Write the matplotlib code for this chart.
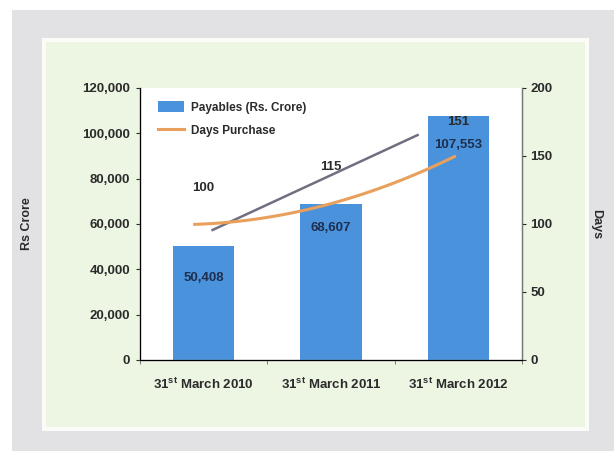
import numpy as np
import matplotlib.pyplot as plt
from matplotlib.patches import Rectangle

plt.rcParams['font.family'] = ['Liberation Sans Narrow', 'Liberation Sans', 'DejaVu Sans']
plt.rcParams['font.weight'] = 'bold'
plt.rcParams['axes.labelweight'] = 'bold'
plt.rcParams['mathtext.default'] = 'regular'

# data
years = ['31$^{st}$ March 2010', '31$^{st}$ March 2011', '31$^{st}$ March 2012']
payables = [50408, 68607, 107553]          # Rs crore
payable_labels = ['50,408', '68,607', '107,553']
days = [100, 115, 151]                     # days purchase
# straight grey guide line drawn on the days axis
guide_x = [0.07, 1.68]
guide_y = [95.6, 165.4]

W, H = 614, 451
fig = plt.figure(figsize=(W / 100, H / 100), dpi=100)
fig.patch.set_facecolor('white')

def px_rect(x0, y0, x1, y1, color):
    fig.patches.append(Rectangle((x0 / W, 1 - y1 / H), (x1 - x0) / W, (y1 - y0) / H,
                                 transform=fig.transFigure, facecolor=color,
                                 edgecolor='none', zorder=-10))

# background frames
px_rect(12, 10, 614, 451, '#e2e2e4')
px_rect(42, 38, 589, 431, '#fbfcf8')
px_rect(46, 42, 585, 427, '#edf6e3')

ax = fig.add_axes([140 / W, 1 - 360 / H, (522 - 140) / W, (360 - 88) / H])
ax.set_facecolor('white')
x = np.arange(len(years))

bars = ax.bar(x, payables, width=0.48, color='#4a93dc', label='Payables (Rs. Crore)', zorder=2)
ax.set_xlim(-0.5, 2.5)
ax.set_ylim(0, 120000)
ax.set_yticks(np.arange(0, 120001, 20000))
ax.set_yticklabels([f'{v:,}' for v in range(0, 120001, 20000)])
ax.set_xticks(x)
ax.set_xticklabels(years)
ax.set_xticks([-0.5, 0.5, 1.5, 2.5], minor=True)
ax.tick_params(axis='x', which='major', length=0, pad=12, labelsize=9.5, colors='#2b2b2b')
ax.tick_params(axis='x', which='minor', length=3, direction='out', color='#666666')
ax.tick_params(axis='y', length=3, colors='#2b2b2b', labelsize=9.5, pad=4)
ax.set_ylabel('Rs Crore', fontsize=9, color='#2b2b2b')
ax.yaxis.set_label_coords(-0.28, 0.5)
ax.spines['top'].set_visible(False)
for s in ['left', 'right', 'bottom']:
    ax.spines[s].set_color('#777777')
    ax.spines[s].set_linewidth(1.0)

for xi, lab, yl in zip(x, payable_labels, [36200, 58200, 94900]):
    ax.text(xi, yl, lab, ha='center', va='center', fontsize=9.5, color='#1e2e4e')

ax2 = ax.twinx()
ax2.set_ylim(0, 200)
ax2.set_yticks([0, 50, 100, 150, 200])
ax2.tick_params(axis='y', length=3, colors='#2b2b2b', labelsize=9.5, pad=3)
ax2.spines['top'].set_visible(False)
ax2.spines['right'].set_color('#777777')
ax2.set_ylabel('Days', fontsize=9, color='#2b2b2b', rotation=270)
ax2.yaxis.set_label_coords(1.21, 0.5)

# smooth curve through the three days values
coef = np.polyfit(x, days, 2)
xs = np.linspace(x[0] - 0.07, x[-1] - 0.03, 100)
ax2.plot(guide_x, guide_y, color='#6f6f80', lw=1.8, zorder=3)
line, = ax2.plot(xs, np.polyval(coef, xs), color='#e8a05c', lw=2.2, label='Days Purchase', zorder=4)

for xi, d, yl in zip(x, days, [126.5, 141.9, 175]):
    ax2.text(xi, yl, str(d), ha='center', va='center', fontsize=9.5, color='#2b2b2b')

leg = ax2.legend([bars, line], ['Payables (Rs. Crore)', 'Days Purchase'], loc='upper left',
                 bbox_to_anchor=(0.02, 0.99), frameon=False, fontsize=8.5,
                 handlelength=2.2, handleheight=1.0, labelspacing=0.9, handletextpad=0.6)
for t in leg.get_texts():
    t.set_color('#2b2b2b')

fig.savefig('out.png', dpi=100)
